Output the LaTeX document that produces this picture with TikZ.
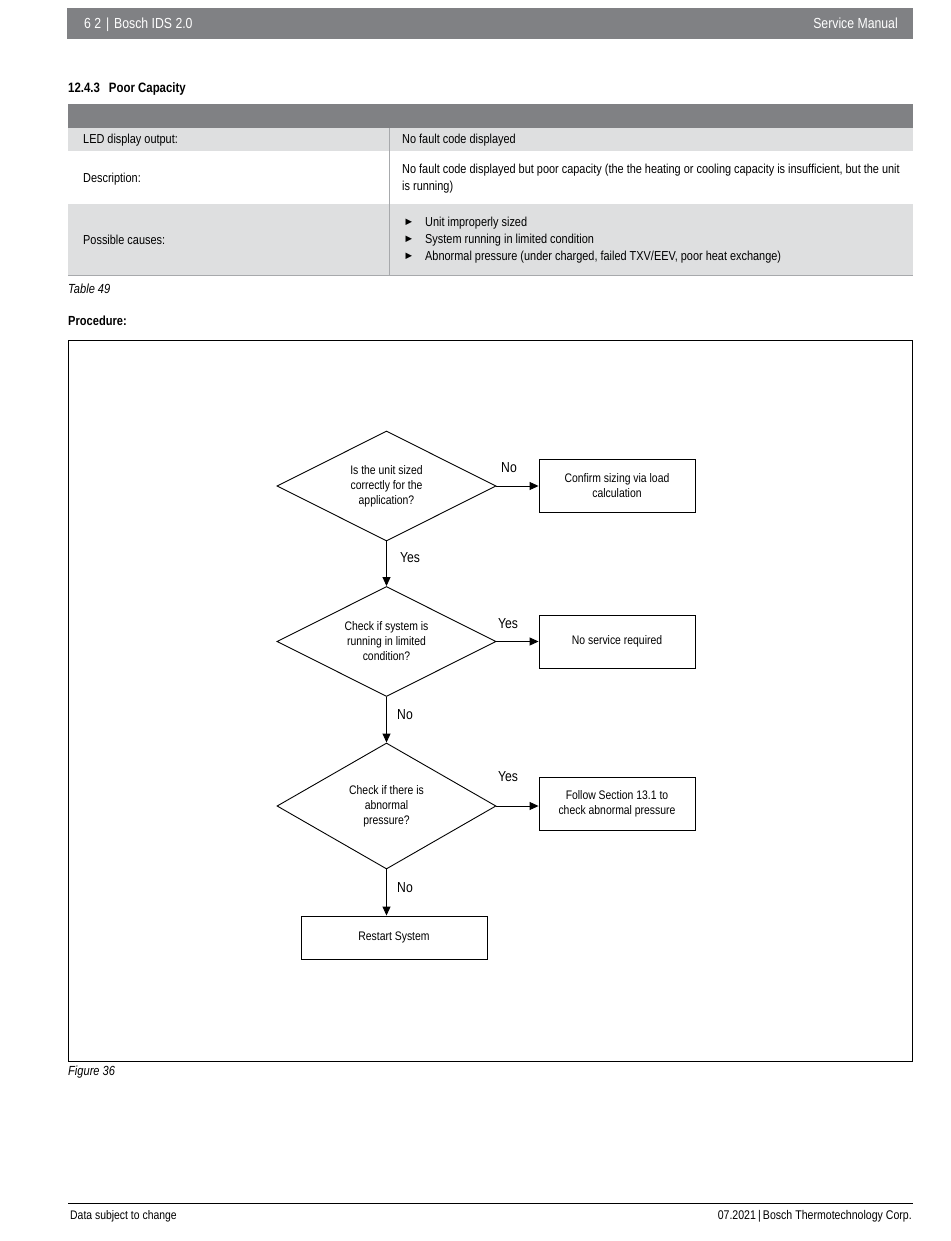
\documentclass[tikz,border=0pt]{standalone}
\usepackage{fontspec}
\setmainfont{Liberation Sans}[FakeStretch=0.84]
\newfontfamily\symfont{DejaVu Sans}
\usetikzlibrary{shapes.geometric,arrows.meta}
\definecolor{barg}{HTML}{808184}
\definecolor{rowg}{HTML}{DEDFE0}
\definecolor{lineg}{HTML}{A7A9AC}
\begin{document}
\begin{tikzpicture}[x=1pt,y=-1pt,
  txt/.style={inner sep=0pt, anchor=mid west, yshift=-1.8pt, font=\fontsize{13}{17}\selectfont, align=left},
  txtr/.style={inner sep=0pt, anchor=mid east, yshift=-1.8pt, font=\fontsize{13}{17}\selectfont},
  hdtxt/.style={inner sep=0pt, text=white, yshift=-2.5pt, font=\fontsize{14.6}{16}\selectfont},
  bullet/.style={inner sep=0pt, font=\symfont\fontsize{8.5}{9}\selectfont},
  dec/.style={diamond, draw, line width=0.9pt, aspect=2, inner sep=0pt, minimum width=219pt, minimum height=110pt, align=center, font=\fontsize{12.4}{15}\selectfont},
  act/.style={rectangle, draw, line width=0.9pt, inner sep=0pt, minimum width=156pt, minimum height=53pt, align=center, font=\fontsize{12.4}{15}\selectfont},
  arr/.style={line width=0.9pt, -{Triangle[length=9pt,width=8pt]}},
  lbl/.style={inner sep=0pt, font=\fontsize{14.5}{16}\selectfont}]
\useasboundingbox (0,0) rectangle (950,1241);
\fill[white] (0,0) rectangle (950,1241);
% header
\fill[barg] (67,8) rectangle (913,39);
\node[hdtxt, anchor=mid west] (hdl) at (84,23) {6 2\,\,|\,\,Bosch IDS 2.0};
\node[hdtxt, anchor=mid east] (hdr) at (898,23) {Service Manual};
% heading
\node[txt, font=\bfseries\fontsize{13.6}{15}\selectfont] (head) at (68,88) {12.4.3\hspace{9pt}Poor Capacity};
% table
\fill[barg] (68,104) rectangle (913,128);
\fill[rowg] (68,128) rectangle (913,151);
\fill[rowg] (68,204) rectangle (913,275);
\draw[lineg, line width=0.7pt] (389,128) -- (389,275);
\draw[lineg, line width=0.7pt] (68,275) -- (913,275);
\node[txt] (l1) at (83,139.5) {LED display output:};
\node[txt] (r1) at (402,139.5) {No fault code displayed};
\node[txt] (l2) at (83,178) {Description:};
\node[txt, anchor=west, yshift=1pt] (r2) at (402,177.5) {No fault code displayed but poor capacity (the the heating or cooling capacity is insufficient, but the unit\\is running)};
\node[txt] (l3) at (83,240) {Possible causes:};
\node[bullet] (b1) at (409,222) {▶};
\node[bullet] (b2) at (409,239) {▶};
\node[bullet] (b3) at (409,256) {▶};
\node[txt] (c1) at (425,222.5) {Unit improperly sized};
\node[txt] (c2) at (425,239.5) {System running in limited condition};
\node[txt] (c3) at (425,256.5) {Abnormal pressure (under charged, failed TXV/EEV, poor heat exchange)};
\node[txt, font=\itshape\fontsize{13.2}{15}\selectfont] (t49) at (68,289.5) {Table 49};
\node[txt, font=\bfseries\fontsize{13.2}{15}\selectfont] (proc) at (68,321) {Procedure:};
% frame
\draw[line width=0.9pt] (68,340) rectangle (912,1061);
\node[txt, font=\itshape\fontsize{13.2}{15}\selectfont] (f36) at (68,1071.5) {Figure 36};
% footer
\draw[line width=0.9pt] (68,1203) -- (913,1203);
\node[txt, font=\fontsize{12.4}{14}\selectfont] (fl) at (70,1215.5) {Data subject to change};
\node[txtr, font=\fontsize{12.6}{14}\selectfont] (fr) at (912,1215.5) {07.2021\,|\,Bosch Thermotechnology Corp.};
% flowchart
\node[dec] (d1) at (386.5,486) {Is the unit sized\\correctly for the\\application?};
\node[act] (a1) at (617,486) {Confirm sizing via load\\calculation};
\node[dec] (d2) at (386.5,641.5) {Check if system is\\running in limited\\condition?};
\node[act] (a2) at (617,641.5) {No service required};
\node[dec, minimum height=126pt] (d3) at (386.5,806) {Check if there is\\abnormal\\pressure?};
\node[act] (a3) at (617,804) {Follow Section 13.1 to\\check abnormal pressure};
\node[act, minimum width=186pt, minimum height=43pt] (a4) at (394,937.5) {Restart System};
\draw[arr] (d1.east) -- (a1.west);
\draw[arr] (d1.south) -- (d2.north);
\draw[arr] (d2.east) -- (a2.west);
\draw[arr] (d2.south) -- (d3.north);
\draw[arr] (d3.east) -- (d3.east -| a3.west);
\draw[arr] (d3.south) -- (d3.south |- a4.north);
\node[lbl] (n1) at (509,468) {No};
\node[lbl] (y1) at (410,558) {Yes};
\node[lbl] (y2) at (508,624) {Yes};
\node[lbl] (n2) at (405,714.5) {No};
\node[lbl] (y3) at (508,777) {Yes};
\node[lbl] (n3) at (405,888) {No};
\end{tikzpicture}
\end{document}
